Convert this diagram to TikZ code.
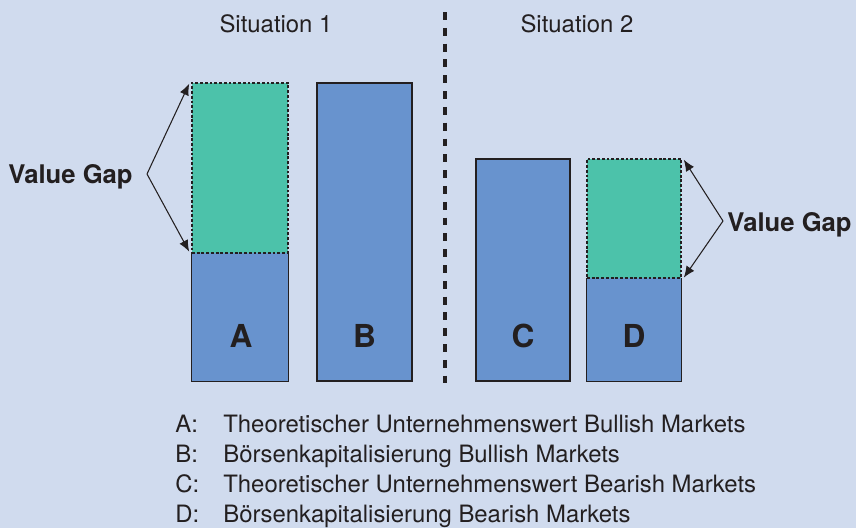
\documentclass[tikz,border=0pt]{standalone}
\usepackage{fontspec}
\setmainfont{TeX Gyre Heros}
\usetikzlibrary{arrows.meta,positioning,fit}
\definecolor{bgblue}{RGB}{208,219,238}
\definecolor{barblue}{RGB}{104,147,206}
\definecolor{gapgreen}{RGB}{76,194,170}
\definecolor{ink}{RGB}{35,31,32}

\begin{document}
\begin{tikzpicture}[x=0.02cm,y=-0.02cm,
    bar/.style={fill=barblue, inner sep=0pt},
    barline/.style={draw=ink, line width=0.8pt},
    gapbox/.style={fill=gapgreen, draw=ink, line width=0.8pt, dash pattern=on 1.6pt off 1.1pt, inner sep=0pt},
    letter/.style={font=\fontsize{18}{20}\selectfont\bfseries, text=ink, anchor=base},
    sitlabel/.style={font=\fontsize{13.6}{16}\selectfont, text=ink, anchor=base},
    gaplabel/.style={font=\fontsize{14.6}{17}\selectfont\bfseries, text=ink, anchor=base west, inner sep=0pt},
    legtext/.style={font=\fontsize{13.6}{16}\selectfont, text=ink, anchor=base west, inner sep=0pt},
    gaparrow/.style={-{Latex[length=6.5pt,width=5.4pt]}, draw=ink, line width=0.6pt}]
    %Canvas - 856 x 528 px%
    %===========================================================
    \useasboundingbox[fill=bgblue] (0,0) rectangle (856,528);
    \def \Base {381}; %Bottom of all bars
    %Bars of situation 1%
    %===========================================================
    \node[bar, fit={(192,253) (288,\Base)}] (Alow) {};
    \draw[barline] (Alow.north west) -- (Alow.south west) -- (Alow.south east) -- (Alow.north east);
    \node[gapbox, fit={(192,83) (288,253)}] (Agap) {};
    \node[bar, barline, fit={(317,83) (412,\Base)}] (B) {};
    %Bars of situation 2%
    %===========================================================
    \node[bar, barline, fit={(476,159) (570,\Base)}] (C) {};
    \node[bar, fit={(587,278) (681,\Base)}] (Dlow) {};
    \draw[barline] (Dlow.north west) -- (Dlow.south west) -- (Dlow.south east) -- (Dlow.north east);
    \node[gapbox, fit={(587,159) (681,278)}] (Dgap) {};
    %Letters in the bars
    \node[letter] (labA) at (241,347) {A};
    \node[letter] (labB) at (B.center |- 0,347) {B};
    \node[letter] (labC) at (C.center |- 0,347) {C};
    \node[letter] (labD) at (Dlow.center |- 0,347) {D};
    %Separator and headings%
    %===========================================================
    \coordinate (septop) at (445,12);
    \coordinate (sepbot) at (445,383);
    \draw[ink, line width=1.8pt, dash pattern=on 4.5pt off 4.5pt] (septop) -- (sepbot);
    \node[sitlabel] (sit1) at (276,32) {Situation 1};
    \node[sitlabel] (sit2) at (577,32) {Situation 2};
    %Value gap arrows%
    %===========================================================
    \node[gaplabel] (gapL) at (8,183) {Value Gap};
    \coordinate (apexL) at (147,174);
    \draw[gaparrow] (apexL) -- ([xshift=-1.2pt,yshift=-0.8pt]Agap.north west);
    \draw[gaparrow] (apexL) -- ([xshift=-1.2pt,yshift=1.2pt]Agap.south west);
    \node[gaplabel] (gapR) at (727,231) {Value Gap};
    \coordinate (apexR) at (723,221);
    \draw[gaparrow] (apexR) -- ([xshift=1.2pt,yshift=-0.8pt]Dgap.north east);
    \draw[gaparrow] (apexR) -- ([xshift=1.2pt,yshift=0.6pt]Dgap.south east);
    %Legend%
    %===========================================================
    \foreach \key/\txt [count=\i] in {A/Theoretischer Unternehmenswert Bullish Markets,
        B/Börsenkapitalisierung Bullish Markets,
        C/Theoretischer Unternehmenswert Bearish Markets,
        D/Börsenkapitalisierung Bearish Markets}{
      \node[legtext] (key\key) at (175,402+30*\i) {\key:};
      \node[legtext] (leg\key) at (223,402+30*\i) {\txt};
    }
\end{tikzpicture}
\end{document}
